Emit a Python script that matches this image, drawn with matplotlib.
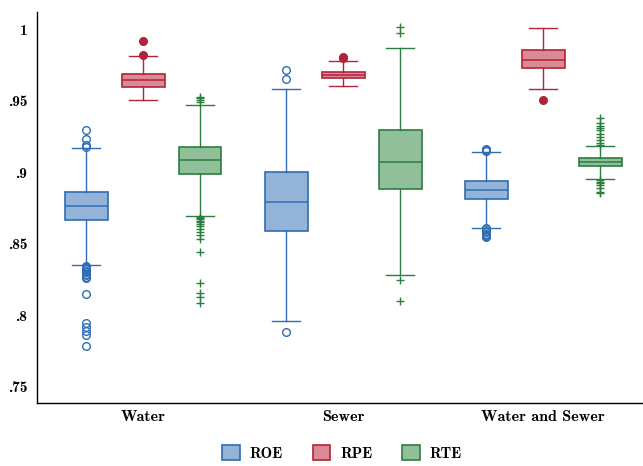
import matplotlib
matplotlib.use("Agg")
import matplotlib.pyplot as plt
from matplotlib.patches import Patch

plt.rcParams['font.family'] = ['cmb10', 'DejaVu Serif']

groups = ['Water', 'Sewer', 'Water and Sewer']
series = ['ROE', 'RPE', 'RTE']

# box stats per series, one entry per group: (whislo, q1, med, q3, whishi)
roe_stats = [(0.8351, 0.8663, 0.8765, 0.8863, 0.9166),
             (0.7962, 0.8588, 0.8793, 0.9001, 0.9583),
             (0.8609, 0.8810, 0.8873, 0.8938, 0.9138)]
rpe_stats = [(0.9504, 0.9597, 0.9644, 0.9686, 0.9813),
             (0.9604, 0.9655, 0.9679, 0.9702, 0.9778),
             (0.9581, 0.9725, 0.9785, 0.9851, 1.0005)]
rte_stats = [(0.8691, 0.8985, 0.9082, 0.9178, 0.9467),
             (0.8281, 0.8880, 0.9071, 0.9292, 0.9869),
             (0.8952, 0.9040, 0.9068, 0.9096, 0.9184)]

roe_out = [[0.9295, 0.9233, 0.9187, 0.9178, 0.8345, 0.834, 0.833, 0.832, 0.831,
            0.830, 0.829, 0.828, 0.827, 0.826, 0.8148, 0.7948, 0.792, 0.789,
            0.7862, 0.7785],
           [0.9714, 0.9651, 0.7879],
           [0.9162, 0.9155, 0.9148, 0.8612, 0.860, 0.859, 0.858, 0.857, 0.856,
            0.855, 0.8545]]
rpe_out = [[0.9914, 0.9818],
           [0.9807, 0.9800],
           [0.9502]]
rte_out = [[0.9527, 0.9515, 0.9505, 0.949, 0.8685, 0.868, 0.867, 0.866, 0.865,
            0.864, 0.862, 0.860, 0.858, 0.856, 0.8535, 0.844, 0.8224, 0.8156,
            0.813, 0.8084],
           [1.0016, 0.9974, 0.8247, 0.8096],
           [0.9376, 0.9346, 0.9323, 0.9311, 0.9293, 0.9265, 0.9246, 0.9223,
            0.9206, 0.919, 0.8945, 0.8933, 0.8922, 0.891, 0.8887, 0.8864, 0.8855]]

yticks = [0.75, 0.8, 0.85, 0.9, 0.95, 1.0]
ytick_labels = ['.75', '.8', '.85', '.9', '.95', '1']

edge = {'ROE': '#2f6db3', 'RPE': '#b3223b', 'RTE': '#2a7f3f'}
fill = {'ROE': '#93b4d8', 'RPE': '#da8a95', 'RTE': '#90bf99'}
flier_style = {
    'ROE': dict(marker='o', markerfacecolor='none', markersize=5.5),
    'RPE': dict(marker='o', markersize=5.5),
    'RTE': dict(marker='+', markersize=6),
}

fig = plt.figure(figsize=(6.43, 4.66), dpi=100)
ax = fig.add_axes([37 / 643, 1 - 403 / 466, 606 / 643, 391 / 466])

offsets = [-0.285, 0.0, 0.285]
all_stats = {'ROE': (roe_stats, roe_out), 'RPE': (rpe_stats, rpe_out),
             'RTE': (rte_stats, rte_out)}

for k, name in enumerate(series):
    st, outs = all_stats[name]
    bstats = []
    for (lo, q1, med, q3, hi), fl in zip(st, outs):
        bstats.append(dict(whislo=lo, q1=q1, med=med, q3=q3, whishi=hi, fliers=fl))
    pos = [g + 1 + offsets[k] for g in range(len(groups))]
    c = edge[name]
    fs = dict(flier_style[name])
    fs.update(markeredgecolor=c, linestyle='none')
    if name == 'RPE':
        fs['markerfacecolor'] = c
    ax.bxp(bstats, positions=pos, widths=0.215, capwidths=0.14,
           patch_artist=True, showfliers=True,
           boxprops=dict(facecolor=fill[name], edgecolor=c, linewidth=1.2),
           medianprops=dict(color=c, linewidth=1.1),
           whiskerprops=dict(color=c, linewidth=1.0),
           capprops=dict(color=c, linewidth=1.0),
           flierprops=fs)

ax.set_xlim(0.47, 3.5)
ax.set_ylim(0.7386, 1.0119)
ax.set_xticks([1, 2, 3])
ax.set_xticklabels(groups, fontsize=11.5)
ax.set_yticks(yticks)
ax.set_yticklabels(ytick_labels, fontsize=11)
ax.tick_params(axis='both', length=0, pad=5)
ax.tick_params(axis='y', pad=7)
for s in ['top', 'right']:
    ax.spines[s].set_visible(False)
for s in ['left', 'bottom']:
    ax.spines[s].set_linewidth(1.0)

handles = [Patch(facecolor=fill[n], edgecolor=edge[n], linewidth=1.2, label=n)
           for n in series]
fig.legend(handles=handles, loc='center', bbox_to_anchor=(342 / 643, 1 - 453 / 466),
           ncol=3, frameon=False, fontsize=11, handlelength=1.15, handleheight=1.15,
           handletextpad=0.65, columnspacing=1.95)

fig.savefig('out.png', dpi=100)
